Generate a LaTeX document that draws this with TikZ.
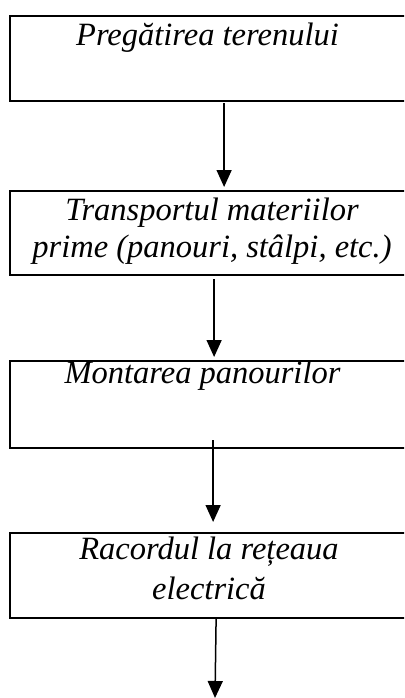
\documentclass[tikz,border=0pt]{standalone}
\usepackage{fontspec}
\setmainfont{Liberation Serif}
\usetikzlibrary{arrows.meta}
\tikzset{
  boxnode/.style={draw, line width=2.2pt, inner sep=0pt, anchor=north west, minimum width=440pt},
  txt/.style={font=\fontsize{32.5}{37}\selectfont\itshape, align=center, anchor=base, inner sep=0pt},
  arr/.style={line width=1.5pt, -{Triangle[width=15pt,length=17pt]}}
}
\begin{document}
\begin{tikzpicture}[x=1pt,y=1pt]
\clip (0,0) rectangle (404,-698);
\node[boxnode, minimum height=85pt] (b1) at (9,-15) {};
\node[boxnode, minimum height=84pt] (b2) at (9,-189.5) {};
\node[boxnode, minimum height=87pt] (b3) at (9,-359.5) {};
\node[boxnode, minimum height=85pt] (b4) at (9,-532) {};
\node[txt] (t1) at (207.5,-46) {Pregătirea terenului};
\node[txt] (t2) at (212,-257) {Transportul materiilor\\prime (panouri, stâlpi, etc.)};
\node[txt] (t3) at (202.5,-383) {Montarea panourilor};
\node[txt] (t4) at (209,-599) {Racordul la rețeaua\\[3pt]electrică};
\coordinate (e4) at (215,-698);
\draw[arr] ([xshift=-6pt,yshift=-1pt]b1.south) -- ([xshift=-6pt,yshift=2.5pt]b2.north);
\draw[arr] ([xshift=-16pt,yshift=-3.5pt]b2.south) -- ([xshift=-16pt,yshift=2.5pt]b3.north);
\draw[arr] ([xshift=-17pt,yshift=8.5pt]b3.south) -- ([xshift=-17pt,yshift=10pt]b4.north);
\draw[arr] ([xshift=-14pt]b4.south) -- (e4);
\end{tikzpicture}
\end{document}
